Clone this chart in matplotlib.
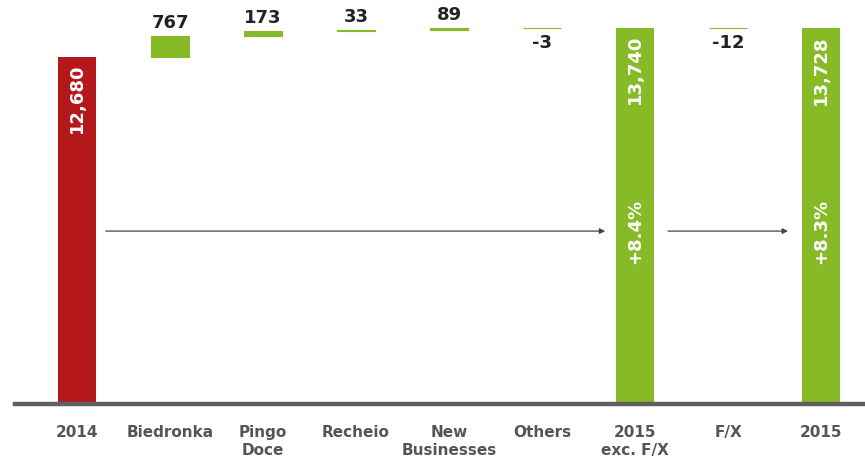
import matplotlib.pyplot as plt

# data
categories = ['2014', 'Biedronka', 'Pingo\nDoce', 'Recheio', 'New\nBusinesses',
              'Others', '2015\nexc. F/X', 'F/X', '2015']
totals = {0: 12680, 6: 13740, 8: 13728}
deltas = {1: 767, 2: 173, 3: 33, 4: 89, 5: -3, 7: -12}
growth = {6: '+8.4%', 8: '+8.3%'}

RED = '#b5181a'
GREEN = '#86bb27'
DARK = '#222222'
GREY = '#555555'

fig = plt.figure(figsize=(8.65, 4.61), dpi=100)
ax = fig.add_axes([0, 0, 1, 1])
ax.set_xlim(-0.828, 8.473)
ax.set_ylim(-2125, 14768)
ax.axis('off')

width = 0.41
running = 0
for i, name in enumerate(categories):
    if i in totals:
        val = totals[i]
        color = RED if i == 0 else GREEN
        ax.bar(i, val, width=width, color=color, linewidth=0)
        ax.annotate(f'{val:,}', (i, val), xytext=(0, -5), textcoords='offset points',
                    rotation=90, ha='center', va='top', color='white',
                    fontsize=13, fontweight='bold')
        running = val
    else:
        d = deltas[i]
        ax.bar(i, d, bottom=running, width=width, color=GREEN,
               edgecolor=GREEN, linewidth=0.8)
        if d >= 0:
            ax.annotate(f'{d:,}', (i, running + d), xytext=(0, 3), textcoords='offset points',
                        ha='center', va='bottom', color=DARK, fontsize=13, fontweight='bold')
        else:
            ax.annotate(f'{d:,}', (i, running + d), xytext=(0, -4), textcoords='offset points',
                        ha='center', va='top', color=DARK, fontsize=13, fontweight='bold')
        running += d
    ax.text(i, -800, name, ha='center', va='top', color=GREY, fontsize=11,
            fontweight='bold', linespacing=1.3)

# growth labels and arrows
arrow_y = 6300
for i, txt in growth.items():
    ax.text(i, arrow_y, txt, rotation=90, ha='center', va='center', color='white',
            fontsize=13, fontweight='bold')
for x0, x1 in [(0.31, 5.68), (6.355, 7.645)]:
    ax.annotate('', xy=(x1, arrow_y), xytext=(x0, arrow_y),
                arrowprops=dict(arrowstyle='-|>', color='#444444', lw=0.9,
                                mutation_scale=8, shrinkA=0, shrinkB=0))

ax.axhline(-40, xmin=15 / 865, xmax=1, color='#5f5f5f', linewidth=3.2)

fig.savefig('out.png', dpi=100)
